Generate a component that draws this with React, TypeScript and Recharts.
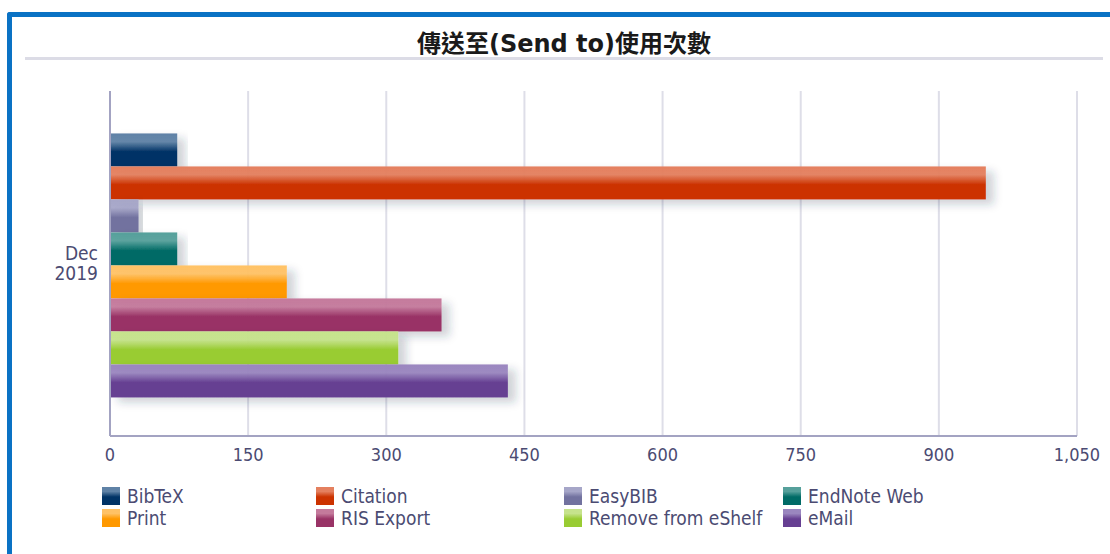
import { BarChart, Bar, XAxis, YAxis, CartesianGrid } from 'recharts'

const periods = ['Dec 2019']
const seriesNames = [
  'BibTeX',
  'Citation',
  'EasyBIB',
  'EndNote Web',
  'Print',
  'RIS Export',
  'Remove from eShelf',
  'eMail',
]
const seriesValues = [[73], [951], [31], [73], [192], [360], [313], [432]]
const xTicks = [0, 150, 300, 450, 600, 750, 900, 1050]

const baseColors = ['#003366', '#cc3300', '#72729f', '#006b66', '#ff9900', '#993366', '#99cc33', '#663f92']
const lightColors = ['#5f82a6', '#e4805f', '#a6a6c8', '#56a09b', '#ffc266', '#c47a9c', '#c6e38c', '#9a86bf']

const data = periods.map((p, i) => {
  const row: Record<string, string | number> = { period: p }
  seriesNames.forEach((s, j) => {
    row[s] = seriesValues[j][i]
  })
  return row
})

const font = '"DejaVu Sans Condensed", "DejaVu Sans", sans-serif'
const textColor = '#4b4b72'

function CategoryTick({ x, y, payload }: any) {
  const parts = String(payload.value).split(' ')
  return (
    <text x={x} y={y} textAnchor="end" fill={textColor} fontSize={19} fontFamily={font}>
      {parts.map((p, i) => (
        <tspan key={i} x={x} dy={i === 0 ? -4 : 20}>
          {p}
        </tspan>
      ))}
    </text>
  )
}

function GlossyBar(props: any) {
  const { x, y, width, height, fill } = props
  if (!width || width <= 0) return null
  return <rect x={x} y={y} width={width} height={height} fill={fill} filter="url(#barShadow)" />
}

const legendCols = [102, 316, 564, 783]

export default function App() {
  return (
    <div style={{ position: 'absolute', left: 0, top: 0, width: 1110, height: 554, background: '#fff', overflow: 'hidden' }}>
      <div
        style={{
          position: 'absolute',
          left: 7,
          top: 12,
          width: 1200,
          height: 700,
          borderLeft: '5px solid #0a72c4',
          borderTop: '5px solid #0a72c4',
          borderTopLeftRadius: 3,
        }}
      />
      <div
        style={{
          position: 'absolute',
          left: 25,
          top: 29,
          width: 1078,
          textAlign: 'center',
          fontFamily: '"DejaVu Sans", "Noto Sans CJK TC", sans-serif',
          fontWeight: 'bold',
          fontSize: 24,
          lineHeight: '30px',
          color: '#1a1a1a',
        }}
      >
        傳送至(Send to)使用次數
      </div>
      <div style={{ position: 'absolute', left: 25, top: 57, width: 1078, height: 3, background: '#dcdce6' }} />
      <div style={{ position: 'absolute', left: 0, top: 0 }}>
        <BarChart
          width={1110}
          height={554}
          data={data}
          layout="vertical"
          margin={{ top: 91, right: 33, bottom: 88, left: 0 }}
          barCategoryGap="12.3%"
          barGap={0}
        >
          <defs>
            {baseColors.map((c, i) => (
              <linearGradient key={i} id={`grad-${i}`} x1="0" y1="0" x2="0" y2="1">
                <stop offset="0%" stopColor={lightColors[i]} />
                <stop offset="25%" stopColor={lightColors[i]} stopOpacity={0.95} />
                <stop offset="55%" stopColor={c} />
                <stop offset="100%" stopColor={c} />
              </linearGradient>
            ))}
            <filter id="barShadow" x="-5%" y="-30%" width="120%" height="190%">
              <feDropShadow dx="8" dy="5" stdDeviation="4" floodColor="#23304d" floodOpacity="0.22" />
            </filter>
          </defs>
          <CartesianGrid horizontal={false} stroke="#dedee8" strokeWidth={2} />
          <XAxis
            type="number"
            domain={[0, 1050]}
            ticks={xTicks}
            interval={0}
            tickLine={false}
            tickSize={0}
            tickMargin={12}
            axisLine={{ stroke: '#a3a3c2', strokeWidth: 2 }}
            tick={{ fill: textColor, fontSize: 18, fontFamily: font }}
            tickFormatter={(v: number) => v.toLocaleString('en-US')}
          />
          <YAxis
            type="category"
            dataKey="period"
            width={110}
            tickLine={false}
            tickSize={0}
            tickMargin={12}
            axisLine={{ stroke: '#a3a3c2', strokeWidth: 2 }}
            tick={<CategoryTick />}
          />
          {seriesNames.map((s, i) => (
            <Bar key={s} dataKey={s} fill={`url(#grad-${i})`} shape={GlossyBar} isAnimationActive={false} />
          ))}
        </BarChart>
      </div>
      {seriesNames.map((s, i) => {
        const col = i % 4
        const row = Math.floor(i / 4)
        return (
          <div
            key={s}
            style={{
              position: 'absolute',
              left: legendCols[col],
              top: 485 + row * 22,
              height: 22,
              display: 'flex',
              alignItems: 'center',
              fontFamily: font,
              fontSize: 19,
              color: textColor,
              whiteSpace: 'nowrap',
            }}
          >
            <span
              style={{
                display: 'inline-block',
                width: 18,
                height: 18,
                marginRight: 7,
                background: `linear-gradient(to bottom, ${lightColors[i]} 0%, ${lightColors[i]} 25%, ${baseColors[i]} 55%, ${baseColors[i]} 100%)`,
              }}
            />
            {s}
          </div>
        )
      })}
    </div>
  )
}
